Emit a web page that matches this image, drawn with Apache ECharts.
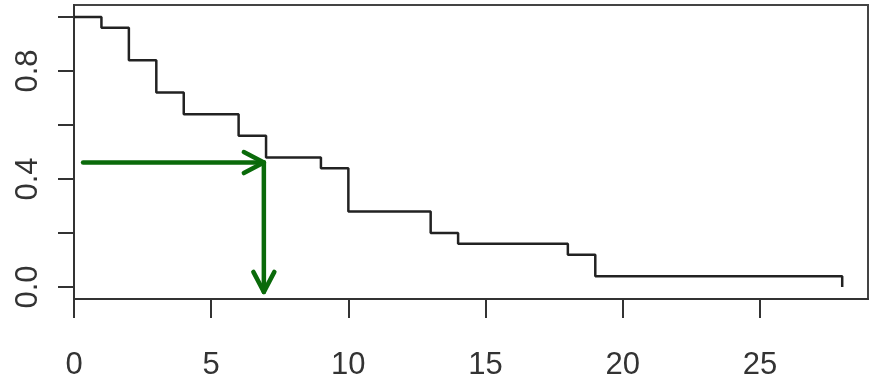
<!DOCTYPE html>
<html>
<head>
<meta charset="utf-8">
<script src="https://cdn.jsdelivr.net/npm/echarts@6/dist/echarts.min.js"></script>
<style>
html,body{margin:0;padding:0;background:#fff;}
#chart{width:869px;height:381px;}
</style>
</head>
<body>
<div id="chart"></div>
<script>
// Kaplan-Meier step data (time, survival)
var times = [0, 1, 2, 3, 4, 6, 7, 9, 10, 13, 14, 18, 19, 28];
var survival = [1.0, 0.96, 0.84, 0.72, 0.64, 0.56, 0.48, 0.44, 0.28, 0.20, 0.16, 0.12, 0.04, 0.0];
// Tick values / labels
var xTicks = [0, 5, 10, 15, 20, 25];
var yTicks = [0, 0.2, 0.4, 0.6, 0.8, 1.0];
var yLabels = [0, 0.4, 0.8];
// Annotation arrows (from -> to, in data units)
var arrowFrom = [[0.33, 0.461], [6.92, 0.461]];
var arrowTo = [[6.92, 0.461], [6.92, -0.018]];

var stepData = times.map(function (t, i) { return [t, survival[i]]; });
var arrowData = arrowFrom.map(function (f, i) { return [f[0], f[1], arrowTo[i][0], arrowTo[i][1]]; });

var chart = echarts.init(document.getElementById('chart'), null, {renderer: 'canvas'});
var axisColor = '#333';
var font = "'Liberation Sans', Arial, sans-serif";

chart.setOption({
  animation: false,
  backgroundColor: '#fff',
  grid: {left: 74, top: 5, right: 1, bottom: 81, show: true, borderColor: '#444', borderWidth: 2, backgroundColor: 'transparent'},
  xAxis: {
    type: 'value', min: 0, max: 28.94,
    axisLine: {show: true, onZero: false, lineStyle: {color: axisColor, width: 2}},
    axisTick: {show: true, length: 19, lineStyle: {color: axisColor, width: 2}, customValues: xTicks},
    axisLabel: {show: true, customValues: xTicks, margin: 51, fontSize: 31, color: axisColor, fontFamily: font},
    splitLine: {show: false}
  },
  yAxis: {
    type: 'value', min: -0.0443, max: 1.0443,
    axisLine: {show: true, onZero: false, lineStyle: {color: axisColor, width: 2}},
    axisTick: {show: true, length: 16, lineStyle: {color: axisColor, width: 2}, customValues: yTicks},
    axisLabel: {show: true, customValues: yLabels, rotate: 90, margin: 30, fontSize: 31, color: axisColor, fontFamily: font,
      formatter: function (v) { return v.toFixed(1); }},
    splitLine: {show: false}
  },
  series: [
    {
      type: 'line', step: 'end', data: stepData, symbol: 'none',
      lineStyle: {color: '#222', width: 2.5}
    },
    {
      type: 'custom', data: arrowData,
      renderItem: function (params, api) {
        var p1 = api.coord([api.value(0), api.value(1)]);
        var p2 = api.coord([api.value(2), api.value(3)]);
        var dx = p2[0] - p1[0], dy = p2[1] - p1[1];
        var len = Math.sqrt(dx * dx + dy * dy);
        var ux = dx / len, uy = dy / len;
        var back = 20, side = 10.5;
        var a1 = [p2[0] - ux * back - uy * side, p2[1] - uy * back + ux * side];
        var a2 = [p2[0] - ux * back + uy * side, p2[1] - uy * back - ux * side];
        var style = {stroke: '#0a6a0a', lineWidth: 4.5, fill: null, lineCap: 'round', lineJoin: 'round'};
        return {
          type: 'group',
          children: [
            {type: 'polyline', shape: {points: [p1, p2]}, style: style},
            {type: 'polyline', shape: {points: [a1, p2, a2]}, style: style}
          ]
        };
      }
    }
  ]
});
</script>
</body>
</html>
